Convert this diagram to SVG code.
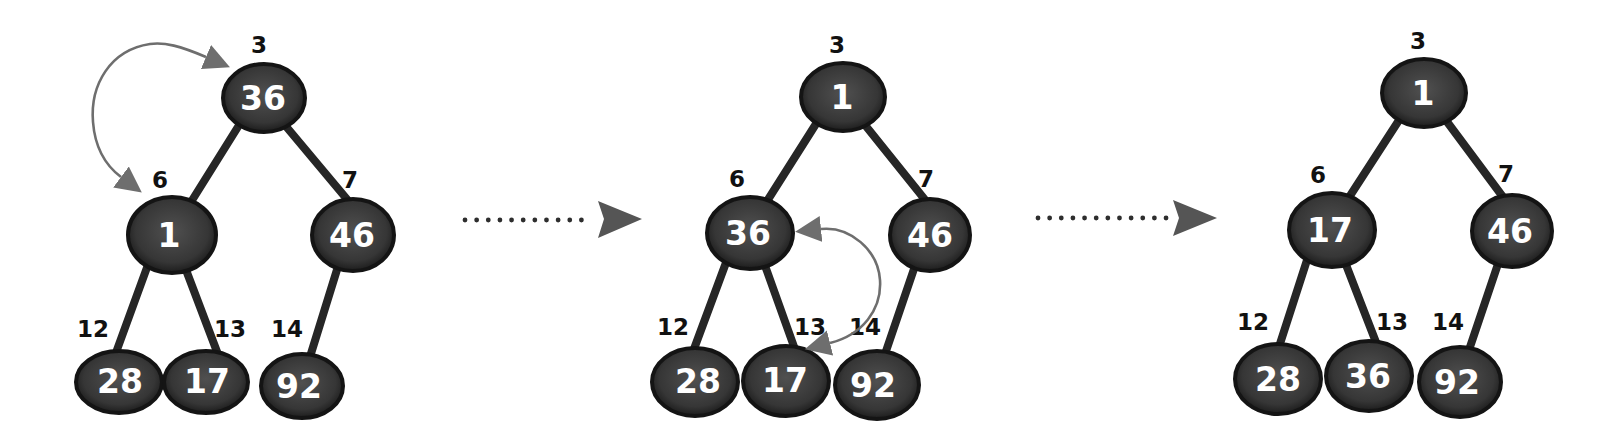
<svg xmlns="http://www.w3.org/2000/svg" width="1610" height="448" viewBox="0 0 1610 448">
<defs>
<style>
.edge{stroke:#262626;stroke-width:8;stroke-linecap:round}
.node{fill:url(#ng);stroke:#141414;stroke-width:4}
.val{font-family:"DejaVu Sans","Liberation Sans",sans-serif;font-weight:bold;font-size:33px;fill:#fff;text-anchor:middle}
.idx{font-family:"DejaVu Sans","Liberation Sans",sans-serif;font-weight:bold;font-size:23px;fill:#111;text-anchor:middle}
.swap{fill:none;stroke:#6e6e6e;stroke-width:2.6;marker-start:url(#ah);marker-end:url(#ah)}
.dots{stroke:#2e2e2e;stroke-width:4.8;stroke-linecap:round;stroke-dasharray:0 11.64}
.bighead{fill:#555}
</style>
<radialGradient id="ng" cx="50%" cy="45%" r="55%">
<stop offset="0" stop-color="#505050"/>
<stop offset="0.75" stop-color="#363636"/>
<stop offset="1" stop-color="#1c1c1c"/>
</radialGradient>
<marker id="ah" markerUnits="userSpaceOnUse" markerWidth="28" markerHeight="28" refX="0" refY="13" orient="auto-start-reverse" viewBox="0 0 28 26">
<path d="M0,0 L26,13 L0,26 z" fill="#6e6e6e"/>
</marker>
</defs>
<rect width="1610" height="448" fill="#fff"/>

<g id="connectors">
<line class="edge" x1="241" y1="122" x2="186" y2="210"/>
<line class="edge" x1="284" y1="124" x2="356" y2="210"/>
<line class="edge" x1="149" y1="262" x2="114" y2="358"/>
<line class="edge" x1="183" y1="262" x2="219" y2="357"/>
<line class="edge" x1="340" y1="260" x2="309" y2="360"/>

<line class="edge" x1="821" y1="116" x2="762" y2="209"/>
<line class="edge" x1="861" y1="120" x2="926" y2="201"/>
<line class="edge" x1="727" y1="260" x2="691" y2="357"/>
<line class="edge" x1="763" y1="260" x2="797" y2="355"/>
<line class="edge" x1="916" y1="263" x2="884" y2="357"/>

<line class="edge" x1="1403" y1="114" x2="1346" y2="202"/>
<line class="edge" x1="1442" y1="115" x2="1506" y2="201"/>
<line class="edge" x1="1308" y1="257" x2="1277" y2="353"/>
<line class="edge" x1="1343" y1="257" x2="1379" y2="350"/>
<line class="edge" x1="1500" y1="258" x2="1470" y2="347"/>

<line class="dots" x1="465" y1="220" x2="593" y2="220"/>
<polygon class="bighead" points="598,201 642,219 598,238 604,219"/>
<line class="dots" x1="1038" y1="218" x2="1167" y2="218"/>
<polygon class="bighead" points="1173,200 1217,218 1173,236 1179,218"/>
</g>

<g id="t1-n3"><ellipse class="node" cx="264" cy="98" rx="41" ry="34"/><text class="val" x="263" y="110">36</text><text class="idx" x="259" y="53">3</text></g>
<g id="t1-n6"><ellipse class="node" cx="172" cy="235" rx="44" ry="38"/><text class="val" x="169" y="247">1</text><text class="idx" x="160" y="188">6</text></g>
<g id="t1-n7"><ellipse class="node" cx="353" cy="235" rx="41" ry="36"/><text class="val" x="352" y="247">46</text><text class="idx" x="350" y="188">7</text></g>
<g id="t1-n12"><ellipse class="node" cx="119" cy="382" rx="43" ry="31"/><text class="val" x="120" y="393">28</text><text class="idx" x="93" y="337">12</text></g>
<g id="t1-n13"><ellipse class="node" cx="206" cy="382" rx="42" ry="31"/><text class="val" x="207" y="393">17</text><text class="idx" x="230" y="337">13</text></g>
<g id="t1-n14"><ellipse class="node" cx="302" cy="386" rx="41" ry="32"/><text class="val" x="299" y="398">92</text><text class="idx" x="287" y="337">14</text></g>

<g id="t2-n3"><ellipse class="node" cx="843" cy="97" rx="42" ry="34"/><text class="val" x="842" y="109">1</text><text class="idx" x="837" y="53">3</text></g>
<g id="t2-n6"><ellipse class="node" cx="750" cy="233" rx="43" ry="36"/><text class="val" x="748" y="245">36</text><text class="idx" x="737" y="187">6</text></g>
<g id="t2-n7"><ellipse class="node" cx="930" cy="235" rx="40" ry="36"/><text class="val" x="930" y="247">46</text><text class="idx" x="926" y="187">7</text></g>
<g id="t2-n12"><ellipse class="node" cx="695" cy="382" rx="43" ry="34"/><text class="val" x="698" y="393">28</text><text class="idx" x="673" y="335">12</text></g>
<g id="t2-n13"><ellipse class="node" cx="786" cy="381" rx="43" ry="35"/><text class="val" x="785" y="392">17</text><text class="idx" x="810" y="335">13</text></g>
<g id="t2-n14"><ellipse class="node" cx="877" cy="385" rx="42" ry="34"/><text class="val" x="873" y="397">92</text><text class="idx" x="865" y="335">14</text></g>

<g id="t3-n3"><ellipse class="node" cx="1424" cy="93" rx="42" ry="34"/><text class="val" x="1423" y="105">1</text><text class="idx" x="1418" y="49">3</text></g>
<g id="t3-n6"><ellipse class="node" cx="1332" cy="230" rx="43" ry="37"/><text class="val" x="1330" y="242">17</text><text class="idx" x="1318" y="183">6</text></g>
<g id="t3-n7"><ellipse class="node" cx="1512" cy="231" rx="40" ry="36"/><text class="val" x="1510" y="243">46</text><text class="idx" x="1506" y="182">7</text></g>
<g id="t3-n12"><ellipse class="node" cx="1278" cy="379" rx="43" ry="35"/><text class="val" x="1278" y="391">28</text><text class="idx" x="1253" y="330">12</text></g>
<g id="t3-n13"><ellipse class="node" cx="1369" cy="376" rx="43" ry="35"/><text class="val" x="1368" y="388">36</text><text class="idx" x="1392" y="330">13</text></g>
<g id="t3-n14"><ellipse class="node" cx="1460" cy="382" rx="41" ry="35"/><text class="val" x="1457" y="394">92</text><text class="idx" x="1448" y="330">14</text></g>

<g id="swap-arrows">
<path class="swap" d="M206,57 C180,46 165,42 150,44 C110,50 90,85 93,122 C95,148 105,165 121,177"/>
<path class="swap" d="M821,229 C850,226 878,250 880,280 C882,310 862,335 830,343"/>
</g>
</svg>
